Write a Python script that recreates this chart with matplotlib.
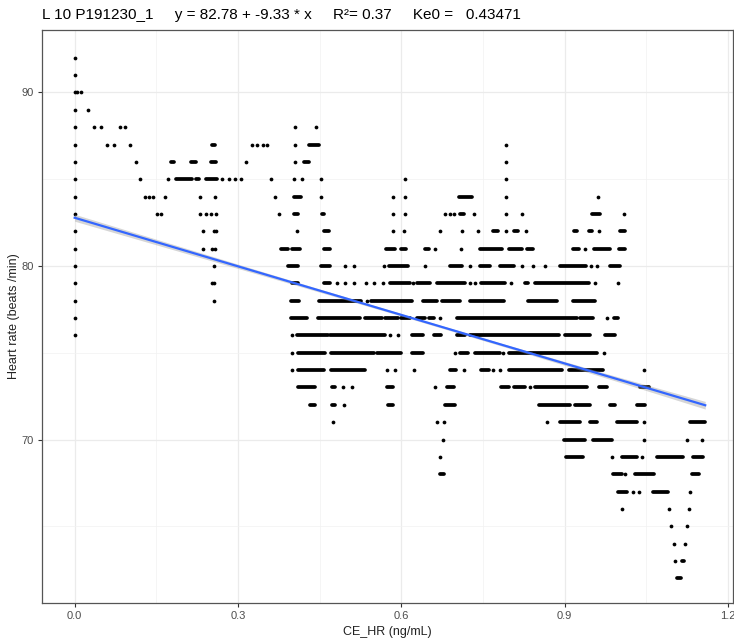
import numpy as np
import matplotlib
matplotlib.use('Agg')
import matplotlib.pyplot as plt

plt.rcParams['font.family'] = ['Liberation Sans', 'DejaVu Sans']

# Heart rate rows: single values are points, tuples are runs of touching points (x from, x to)
hr92 = [0.0]
hr91 = [0.0]
hr90 = [0.0, 0.004, 0.011]
hr89 = [0.0, 0.024]
hr88 = [0.0, 0.036, 0.049, 0.083, 0.092, 0.405, 0.444]
hr87 = [0.0, 0.060, 0.072, 0.102, (0.253, 0.258), 0.325, 0.335, 0.345, 0.353, 0.405,
        (0.431, 0.449), 0.792]
hr86 = [0.0, 0.113, (0.177, 0.182), (0.214, 0.223), (0.250, 0.260), 0.315, 0.405,
        (0.422, 0.431), 0.792]
hr85 = [0.0, 0.120, 0.171, (0.187, 0.215), (0.223, 0.229), (0.242, 0.261), 0.271, 0.284,
        0.295, 0.306, 0.361, 0.403, 0.418, 0.452, 0.607, 0.792]
hr84 = [0.0, 0.129, 0.137, 0.144, 0.166, 0.231, 0.257, 0.368, (0.403, 0.415), 0.452, 0.585,
        0.607, (0.706, 0.729), 0.792, 0.961]
hr83 = [0.0, 0.151, 0.159, 0.231, 0.241, 0.250, 0.259, 0.375, (0.403, 0.411), (0.454, 0.458),
        0.584, 0.607, 0.680, 0.689, 0.697, (0.708, 0.715), 0.734, 0.792, 0.821, (0.950, 0.965),
        1.009]
hr82 = [0.0, 0.235, 0.256, 0.259, 0.408, (0.457, 0.467), 0.584, 0.605, 0.670, 0.711, 0.740,
        (0.769, 0.778), 0.792, (0.806, 0.815), 0.828, (0.917, 0.922), (0.944, 0.950), 0.962,
        (1.002, 1.011)]
hr81 = [0.0, 0.236, 0.252, 0.258, (0.378, 0.391), (0.399, 0.413), (0.457, 0.469),
        (0.572, 0.588), (0.600, 0.609), (0.643, 0.651), 0.661, 0.709, (0.745, 0.784),
        (0.798, 0.821), (0.831, 0.841), (0.916, 0.927), 0.938, (0.954, 0.983), (1.000, 1.011)]
hr80 = [0.0, 0.256, (0.392, 0.411), (0.452, 0.469), 0.497, 0.513, 0.568, (0.578, 0.612), 0.643,
        (0.689, 0.711), 0.726, (0.744, 0.762), (0.781, 0.806), 0.821, 0.842, 0.864,
        (0.891, 0.939), 0.948, 0.960, (0.983, 1.002)]
hr79 = [0.0, 0.252, 0.256, (0.399, 0.411), (0.457, 0.469), 0.481, 0.497, 0.513, 0.535, 0.550,
        0.566, (0.579, 0.616), 0.622, (0.628, 0.653), (0.665, 0.717), 0.726, 0.735,
        (0.746, 0.790), 0.801, (0.827, 0.833), (0.846, 0.944), 0.956, 0.997]
hr78 = [0.0, 0.255, (0.398, 0.412), (0.449, 0.525), 0.536, (0.545, 0.619), (0.640, 0.665),
        (0.674, 0.708), (0.726, 0.789), (0.833, 0.885), (0.915, 0.956)]
hr77 = [0.0, (0.397, 0.426), (0.447, 0.524), (0.533, 0.565), (0.569, 0.594), (0.600, 0.616),
        (0.628, 0.643), (0.651, 0.659), 0.671, (0.702, 0.922), (0.928, 0.951), 0.977,
        (0.990, 0.997)]
hr76 = [0.0, 0.399, (0.408, 0.466), (0.469, 0.570), 0.579, 0.594, (0.619, 0.640),
        (0.659, 0.672), (0.702, 0.716), (0.726, 0.889), (0.901, 0.947), (0.974, 0.993)]
hr75 = [0.399, (0.411, 0.460), (0.470, 0.549), (0.556, 0.600), (0.619, 0.640), 0.699,
        (0.708, 0.723), (0.735, 0.781), 0.787, (0.797, 0.959), 0.972]
hr74 = [0.399, (0.411, 0.457), (0.471, 0.533), 0.573, 0.588, 0.624, (0.689, 0.701), 0.715,
        (0.747, 0.760), 0.769, 0.781, (0.797, 0.895), (0.907, 0.971), 1.046]
hr73 = [(0.411, 0.441), (0.472, 0.478), 0.493, 0.509, (0.573, 0.585), 0.662, (0.683, 0.697),
        (0.783, 0.797), (0.806, 0.827), 0.836, (0.846, 0.940), (0.962, 0.978), (1.038, 1.054)]
hr72 = [(0.432, 0.441), (0.472, 0.478), 0.495, (0.576, 0.584), (0.680, 0.699), (0.852, 0.910),
        (0.919, 0.947), (0.983, 0.993), (1.032, 1.048)]
hr71 = [0.474, 0.665, 0.678, 0.867, (0.891, 0.928), (0.947, 0.959), (0.996, 1.032), 1.045,
        (1.130, 1.158)]
hr70 = [0.677, (0.898, 0.937), (0.952, 0.986), 1.045, 1.124, 1.152]
hr69 = [0.670, (0.902, 0.934), 0.987, (1.005, 1.032), 1.041, (1.069, 1.118), (1.136, 1.154)]
hr68 = [(0.671, 0.679), (0.989, 1.005), 1.011, (1.029, 1.064), (1.133, 1.147)]
hr67 = [(0.997, 1.014), 1.026, 1.036, (1.063, 1.090), 1.130]
hr66 = [1.005, 1.092, 1.128]
hr65 = [1.095, 1.124]
hr64 = [1.100, 1.121]
hr63 = [1.103, (1.115, 1.119)]
hr62 = [(1.106, 1.114)]

rows = {92: hr92, 91: hr91, 90: hr90, 89: hr89, 88: hr88, 87: hr87, 86: hr86, 85: hr85,
        84: hr84, 83: hr83, 82: hr82, 81: hr81, 80: hr80, 79: hr79, 78: hr78, 77: hr77,
        76: hr76, 75: hr75, 74: hr74, 73: hr73, 72: hr72, 71: hr71, 70: hr70, 69: hr69,
        68: hr68, 67: hr67, 66: hr66, 65: hr65, 64: hr64, 63: hr63, 62: hr62}

# linear fit from the title, and the read width of its grey band
intercept = 82.78
slope = -9.33
fit_x = np.array([0.0, 1.158])
band_x = np.array([0.0, 0.2, 0.4, 0.6, 0.8, 1.0, 1.158])
band_hw = np.array([0.20, 0.15, 0.10, 0.07, 0.08, 0.14, 0.22])

title = "L 10 P191230_1     y = 82.78 + -9.33 * x     R\u00b2= 0.37     Ke0 =   0.43471"

fig = plt.figure(figsize=(7.34, 6.4), dpi=100)
ax = fig.add_axes([42 / 734, 37 / 640, 691 / 734, 573 / 640])

dot = 2.7  # marker diameter in points
for hr, items in rows.items():
    singles = [v for v in items if not isinstance(v, tuple)]
    runs = [v for v in items if isinstance(v, tuple)]
    if singles:
        ax.scatter(singles, [hr] * len(singles), s=dot ** 2, c='black', linewidths=0, zorder=3)
    if runs:
        lc = ax.hlines([hr] * len(runs), [r[0] for r in runs], [r[1] for r in runs],
                       colors='black', linewidth=dot, zorder=3)
        lc.set_capstyle('round')

band_mid = intercept + slope * band_x
ax.fill_between(band_x, band_mid - band_hw, band_mid + band_hw, color='#999999', alpha=0.4,
                linewidth=0, zorder=4)
ax.plot(fit_x, intercept + slope * fit_x, color='#3366FF', linewidth=1.6, zorder=5)

ax.set_xlim(-0.06, 1.209)
ax.set_ylim(60.58, 93.6)
ax.set_xticks([0.0, 0.3, 0.6, 0.9, 1.2])
ax.set_xticklabels(['0.0', '0.3', '0.6', '0.9', '1.2'])
ax.set_xticks([0.15, 0.45, 0.75, 1.05], minor=True)
ax.set_yticks([70, 80, 90])
ax.set_yticks([65, 75, 85], minor=True)
ax.grid(True, which='major', color='#EBEBEB', linewidth=0.9)
ax.grid(True, which='minor', color='#F2F2F2', linewidth=0.5)
ax.set_axisbelow(True)
ax.tick_params(which='major', length=3, color='#333333', labelcolor='#4D4D4D', labelsize=8,
               pad=3)
ax.tick_params(which='minor', length=0)
for s in ax.spines.values():
    s.set_color('#555555')
    s.set_linewidth(0.9)

ax.set_xlabel('CE_HR (ng/mL)', fontsize=9, color='#222222', labelpad=3)
ax.set_ylabel('Heart rate (beats /min)', fontsize=9, color='#222222', labelpad=1)
fig.text(42 / 734, 1 - 15 / 640, title, ha='left', va='center', fontsize=11)

fig.savefig('out.png', dpi=100)
